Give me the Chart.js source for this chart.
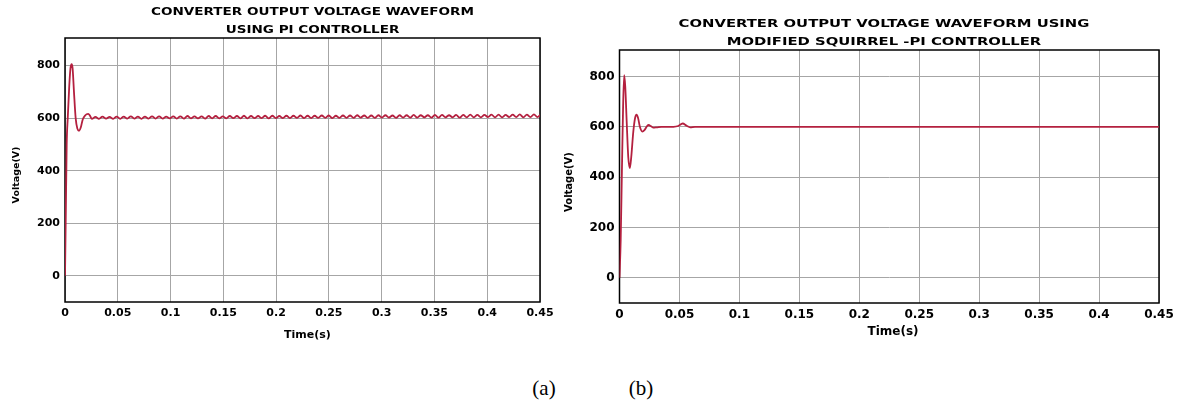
<!DOCTYPE html>
<html><head><meta charset="utf-8">
<script src="https://cdn.jsdelivr.net/npm/chart.js@4.4.1/dist/chart.umd.min.js"></script>
<style>
html,body{margin:0;padding:0;background:#fff;width:1182px;height:401px;overflow:hidden;}
canvas{position:absolute;top:0;}
#cA{left:0;} #cB{left:555px;}
.cap{position:absolute;font-family:"Liberation Serif","Times New Roman",serif;font-size:21px;color:#000;transform:translate(-50%,-50%);white-space:nowrap;}
</style></head><body>
<canvas id="cA" width="560" height="350"></canvas>
<canvas id="cB" width="627" height="350"></canvas>
<div class="cap" id="capA" style="left:544px;top:388px"></div>
<div class="cap" id="capB" style="left:641px;top:388px"></div>
<script>
// ---------- data ----------
const xTickValues = [0, 0.05, 0.1, 0.15, 0.2, 0.25, 0.3, 0.35, 0.4, 0.45];
const xTickLabels = ['0', '0.05', '0.1', '0.15', '0.2', '0.25', '0.3', '0.35', '0.4', '0.45'];
const yTickValues = [0, 200, 400, 600, 800];
const yTickLabels = ['0', '200', '400', '600', '800'];
const titleA = ['CONVERTER OUTPUT VOLTAGE WAVEFORM', 'USING PI CONTROLLER'];
const titleB = ['CONVERTER OUTPUT VOLTAGE WAVEFORM USING', 'MODIFIED SQUIRREL -PI CONTROLLER'];
const xAxisTitle = 'Time(s)';
const yAxisTitle = 'Voltage(V)';
const captions = ['(a)', '(b)'];

// (a) PI controller: start-up transient
const piTime    = [0, 0.0008, 0.0016, 0.0026, 0.004, 0.0052, 0.0063, 0.0072, 0.0085, 0.0101, 0.0117, 0.0133, 0.015, 0.0168, 0.019, 0.022, 0.0238];
const piVoltage = [0, 250, 500, 600, 720, 790, 805, 790, 700, 600, 560, 552, 565, 595, 610, 616, 608];
// (a) steady-state ripple, read as alternating troughs / crests
const piRippleStart = 0.0255;
const piRippleHalfPeriod = 0.00335;
const piRippleTroughs = [597,597,598,597,597,598,598,597,598,598,
  598,599,598,598,599,599,598,599,599,599,
  600,599,599,600,600,599,600,600,600,601,
  600,600,601,601,600,601,601,601,602,601,
  601,602,602,601,602,602,602,603,602,602,
  603,603,602,603,603,603,604,603,603,604,
  604,603,604,604];
const piRippleCrests = [605,606,605,606,606,607,606,606,607,607,
  606,607,607,608,607,607,608,608,607,608,
  608,609,608,608,609,609,608,609,609,610,
  609,609,610,610,609,610,610,611,610,610,
  611,611,610,611,611,612,611,611,612,612,
  611,612,612,613,612,612,613,613,612,613,
  614,613,614,615];

// (b) Modified squirrel-PI controller
const msTime    = [0, 0.001, 0.002, 0.003, 0.0039, 0.0048, 0.006, 0.0073, 0.0086, 0.0098, 0.0115, 0.013, 0.0142, 0.0155, 0.017, 0.019, 0.021, 0.023, 0.0244, 0.026, 0.028, 0.031, 0.035, 0.045, 0.049, 0.0527, 0.056, 0.059, 0.063, 0.1, 0.2, 0.3, 0.45];
const msVoltage = [0, 150, 420, 680, 805, 760, 620, 480, 436, 480, 580, 635, 648, 635, 600, 581, 588, 603, 607, 603, 597, 598, 600, 600, 603, 613, 604, 598, 600, 600, 600, 600, 600];

// ---------- build point tables ----------
const piPoints = piTime.map((t, i) => ({x: t, y: piVoltage[i]}));
for (let k = 0; k < piRippleTroughs.length; k++) {
  piPoints.push({x: piRippleStart + 2 * k * piRippleHalfPeriod, y: piRippleTroughs[k]});
  piPoints.push({x: piRippleStart + (2 * k + 1) * piRippleHalfPeriod, y: piRippleCrests[k]});
}
const msPoints = msTime.map((t, i) => ({x: t, y: msVoltage[i]}));

document.getElementById('capA').textContent = captions[0];
document.getElementById('capB').textContent = captions[1];

// ---------- decoration plugin (box, titles) ----------
const FONT = '"DejaVu Sans", "Liberation Sans", Arial, sans-serif';
const decor = {
  id: 'decor',
  beforeDatasetsDraw(chart, args, o) {
    const ctx = chart.ctx, a = chart.chartArea;
    ctx.save();
    ctx.strokeStyle = '#000';
    ctx.lineWidth = 1.5;
    ctx.strokeRect(a.left, a.top, a.right - a.left, a.bottom - a.top);
    ctx.restore();
  },
  afterDraw(chart, args, o) {
    const ctx = chart.ctx;
    ctx.save();
    ctx.fillStyle = '#000';
    ctx.textAlign = 'center';
    ctx.textBaseline = 'middle';
    ctx.font = 'bold ' + o.titleSize + 'px ' + FONT;
    o.title.forEach((line, i) => {
      ctx.save();
      ctx.translate(o.titleX, o.titleY[i]);
      ctx.scale(o.titleStretch, 1);
      ctx.fillText(line, 0, 0);
      ctx.restore();
    });
    ctx.font = 'bold ' + o.xTitleSize + 'px ' + FONT;
    ctx.fillText(o.xTitle, o.xTitleX, o.xTitleY);
    ctx.save();
    ctx.translate(o.yTitleX, o.yTitleY);
    ctx.rotate(-Math.PI / 2);
    ctx.font = 'bold ' + o.yTitleSize + 'px ' + FONT;
    ctx.fillText(o.yTitle, 0, 0);
    ctx.restore();
    ctx.restore();
  }
};

function makeChart(id, points, s) {
  const tickFont = {family: FONT, weight: 'bold', size: s.tickSize};
  return new Chart(document.getElementById(id), {
    type: 'line',
    data: {datasets: [{
      data: points,
      borderColor: '#b4203f',
      borderWidth: 1.8,
      pointRadius: 0,
      fill: false,
      cubicInterpolationMode: 'monotone'
    }]},
    plugins: [decor],
    options: {
      responsive: false,
      animation: false,
      devicePixelRatio: 1,
      events: [],
      layout: {padding: s.padding},
      plugins: {
        legend: {display: false},
        tooltip: {enabled: false},
        title: {display: false},
        decor: s.decor
      },
      scales: {
        x: {
          type: 'linear', min: 0, max: 0.45,
          afterBuildTicks: sc => { sc.ticks = xTickValues.map(v => ({value: v})); },
          afterFit: sc => { sc.height = 30; },
          ticks: {autoSkip: false, maxRotation: 0, padding: s.xPad, color: '#000', font: tickFont,
                  callback: (v, i) => xTickLabels[i]},
          grid: {color: '#a6a6a6', lineWidth: 1, drawTicks: false},
          border: {display: false}
        },
        y: {
          type: 'linear', min: -100, max: 905,
          afterBuildTicks: sc => { sc.ticks = yTickValues.map(v => ({value: v})); },
          afterFit: sc => { sc.width = s.yWidth; },
          ticks: {autoSkip: false, padding: 5, color: '#000', font: tickFont,
                  callback: (v, i) => yTickLabels[i]},
          grid: {color: '#a6a6a6', lineWidth: 1, drawTicks: false},
          border: {display: false}
        }
      }
    }
  });
}

makeChart('cA', piPoints, {
  tickSize: 11, xPad: 5, yWidth: 65,
  padding: {left: 0, top: 38, right: 20, bottom: 18},
  decor: {title: titleA, titleX: 312.5, titleY: [12.5, 30.2], titleSize: 11.3, titleStretch: 1.2,
          xTitle: xAxisTitle, xTitleX: 307.5, xTitleY: 335, xTitleSize: 11,
          yTitle: yAxisTitle, yTitleX: 17, yTitleY: 175, yTitleSize: 9.5}
});
makeChart('cB', msPoints, {
  tickSize: 12, xPad: 5, yWidth: 64.5,
  padding: {left: 0, top: 50, right: 23, bottom: 17},
  decor: {title: titleB, titleX: 329, titleY: [24.5, 42.2], titleSize: 10.5, titleStretch: 1.41,
          xTitle: xAxisTitle, xTitleX: 338, xTitleY: 332, xTitleSize: 12,
          yTitle: yAxisTitle, yTitleX: 14, yTitleY: 182, yTitleSize: 10}
});
</script>
</body></html>
